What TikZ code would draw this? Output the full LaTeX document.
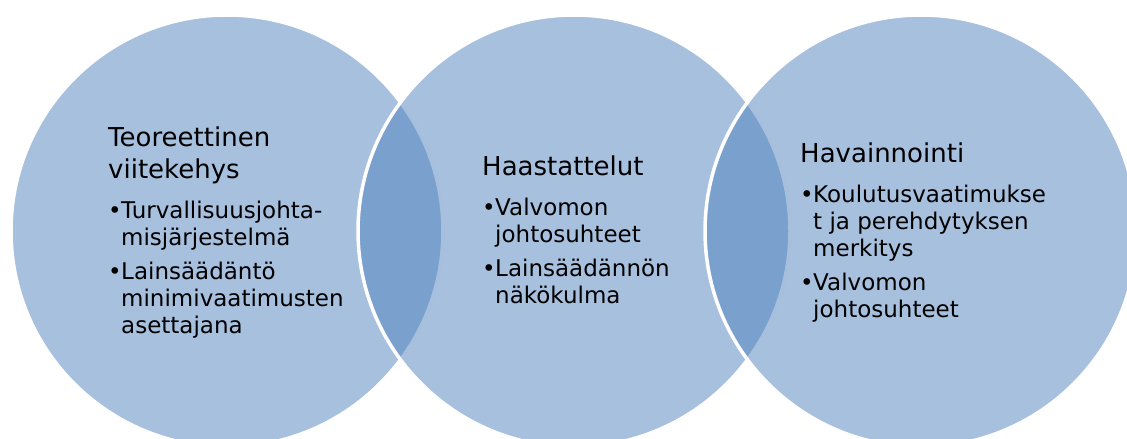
\documentclass[tikz,border=0pt]{standalone}
\usepackage{fontspec}
\setmainfont{DejaVu Sans}
\usepackage{xcolor}
\usetikzlibrary{positioning}
\definecolor{vennblue}{RGB}{79,129,189}
\tikzset{venn/.style={circle, minimum size=432pt, inner sep=0pt,
fill=vennblue, fill opacity=0.5, draw=white, line width=3.5pt},
vtext/.style={anchor=base west, inner sep=0pt, text opacity=1}}
\newcommand{\vtitle}[1]{{\fontsize{26}{32}\selectfont #1\par}\vspace{13pt}}
\newcommand{\vbul}[1]{{\fontsize{23}{27}\selectfont\hangindent=13pt\hangafter=1%
\noindent\makebox[13pt][l]{\textbullet}#1\par}}
\newcommand{\vblock}[1]{\begin{minipage}[t]{260pt}\parindent=0pt #1\end{minipage}}

\begin{document}
\begin{tikzpicture}[x=1pt, y=-1pt]
	\clip (0,0) rectangle (1127,439);
	\node[venn] (c1) at (227,231) {};
	\node[venn] (c2) at (574,231) {};
	\node[venn] (c3) at (921,231) {};
	\node[vtext] (t1) at (108,146) {\vblock{\vtitle{Teoreettinen\\viitekehys}
		\vbul{Turvallisuusjohta-\\misjärjestelmä}\vspace{7pt}
		\vbul{Lainsäädäntö\\minimivaatimusten\\asettajana}}};
	\node[vtext] (t2) at (482,175) {\vblock{\vtitle{Haastattelut}
		\vbul{Valvomon\\johtosuhteet}\vspace{7pt}
		\vbul{Lainsäädännön\\näkökulma}}};
	\node[vtext] (t3) at (800,162) {\vblock{\vtitle{Havainnointi}
		\vbul{Koulutusvaatimukse\\t ja perehdytyksen\\merkitys}\vspace{7pt}
		\vbul{Valvomon\\johtosuhteet}}};
\end{tikzpicture}
\end{document}
